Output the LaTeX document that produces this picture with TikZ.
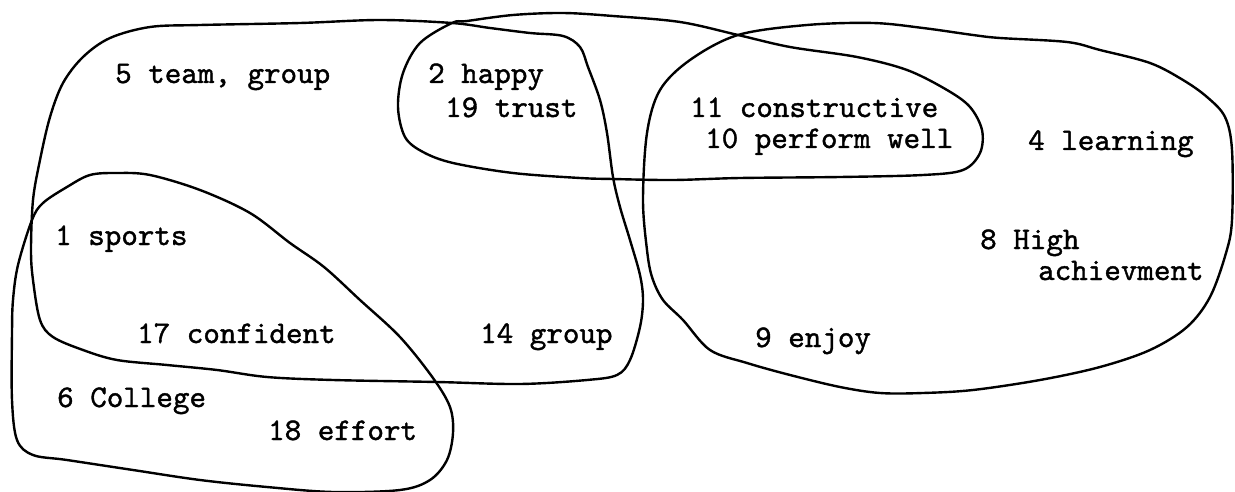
\documentclass[tikz,border=0pt]{standalone}
\usepackage{fontspec}
\newfontfamily\typew{lmmono10-regular.otf}[FakeBold=1.2]
\begin{document}
\begin{tikzpicture}[x=1pt,y=-1pt,
  blob/.style={line width=2.4pt,line join=round},
  lbl/.style={anchor=base west,inner sep=0pt,font=\fontsize{31.5}{36}\selectfont\typew}]
\useasboundingbox (0,0) rectangle (1235,492);
% team/group region
\draw[blob] plot[smooth cycle,tension=0.55] coordinates {
 (150,27) (200,25) (300,23) (380,20) (452,23) (490,28) (530,33) (563,36) (580,47)
 (588,67) (600,100) (607,133) (613,177) (620,207) (630,240) (640,275) (643,300)
 (640,327) (630,360) (617,375) (587,380) (520,384) (437,382) (333,380) (267,377)
 (217,370) (167,365) (117,360) (83,350) (53,337) (40,320) (33,280) (31,250)
 (33,200) (40,160) (50,117) (63,83) (83,57) (110,38)};
% happy / constructive region
\draw[blob] plot[smooth cycle,tension=0.55] coordinates {
 (452,23) (467,21) (513,15) (563,13) (613,16) (680,22) (738,35) (790,47) (857,57)
 (907,70) (947,90) (970,107) (982,130) (980,153) (963,170) (923,175) (840,177)
 (740,178) (673,180) (613,179) (580,178) (513,173) (453,163) (423,152) (405,137)
 (398,107) (403,73) (420,43)};
% learning region
\draw[blob] plot[smooth cycle,tension=0.55] coordinates {
 (738,35) (807,25) (873,23) (923,28) (973,35) (1000,38) (1067,42) (1100,50)
 (1150,63) (1183,80) (1207,97) (1225,117) (1232,150) (1232,220) (1226,253)
 (1210,297) (1187,327) (1150,350) (1100,367) (1040,380) (973,390) (923,393)
 (880,393) (840,387) (790,375) (747,363) (710,350) (683,320) (663,300) (652,277)
 (647,250) (643,200) (647,133) (660,90) (690,60)};
% sports / college region
\draw[blob] plot[smooth cycle,tension=0.55] coordinates {
 (32,220) (43,203) (67,187) (90,175) (117,173) (150,175) (200,190) (250,213)
 (290,243) (324,267) (360,300) (400,337) (433,378) (450,407) (453,433) (447,460)
 (430,480) (400,490) (333,492) (267,487) (200,480) (133,470) (67,460) (33,455)
 (17,440) (12,400) (12,333) (13,300) (18,265)};
% labels
\node[lbl] (t5) at (115,83) {5 team, group};
\node[lbl] (t2) at (428,83) {2 happy};
\node[lbl] (t19) at (445,117) {19 trust};
\node[lbl] (t11) at (690,117) {11 constructive};
\node[lbl] (t10) at (705,148) {10 perform well};
\node[lbl] (t4) at (1028,150) {4 learning};
\node[lbl] (t1) at (55,245) {1 sports};
\node[lbl] (t8) at (980,249) {8 High};
\node[lbl] (t8b) at (1038,280) {achievment};
\node[lbl] (t17) at (137,343) {17 confident};
\node[lbl] (t14) at (480,343) {14 group};
\node[lbl] (t9) at (755,347) {9 enjoy};
\node[lbl] (t6) at (57,407) {6 College};
\node[lbl] (t18) at (268,440) {18 effort};
\end{tikzpicture}
\end{document}
